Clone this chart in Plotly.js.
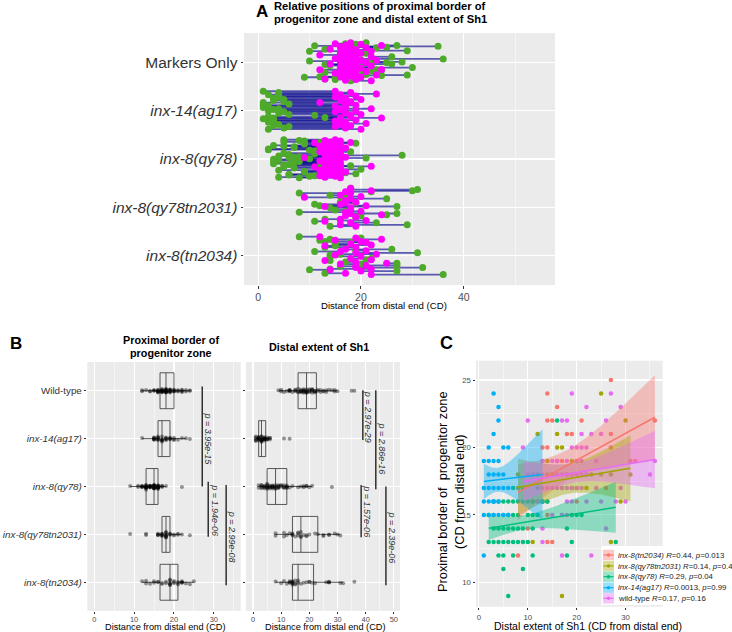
<!DOCTYPE html>
<html><head><meta charset="utf-8">
<script src="https://cdn.plot.ly/plotly-3.0.1.min.js"></script>
<style>html,body{margin:0;padding:0;background:#fff;} #chart{width:732px;height:632px;}</style>
</head><body><div id="chart"></div>
<script>
// ---------------- DATA ----------------
const labelsA = ['Markers Only', '<i>inx-14(ag17)</i>', '<i>inx-8(qy78)</i>', '<i>inx-8(qy78tn2031)</i>', '<i>inx-8(tn2034)</i>'];
const labelsB = ['Wild-type', '<i>inx-14(ag17)</i>', '<i>inx-8(qy78)</i>', '<i>inx-8(qy78tn2031)</i>', '<i>inx-8(tn2034)</i>'];
const legendNames = ['inx-8(tn2034)', 'inx-8(qy78tn2031)', 'inx-8(qy78)', 'inx-14(ag17)', 'wild-type'];
const legendR = ['0.44', '0.14', '0.29', '0.0013', '0.17'];
const legendP = ['0.013', '0.47', '0.04', '0.99', '0.16'];

// distal extent of Sh1 (CD) and proximal border of progenitor zone (CD), per animal
const sh1_wt = [19,27,22,29,10,17,18,26,21,23,25,9,21,22,19,36,20,21,13,15,18,24,35,10,17,18,20,21,16,13,19,22,15,16,17,19,20,21,29,14,18,19,22,25,28,12,18,30,17,18,15,13,26,13,17,23,11,20,24,16];
const pz_wt  = [24,24,23,23,22,22,22,22,21,21,21,20,20,20,20,19,19,19,19,19,19,19,18,18,18,18,18,18,18,18,18,18,17,17,17,17,17,17,17,17,17,16,16,16,16,16,16,16,15,15,15,14,14,13,12,12,18,20,17,19];

const sh1_ag = [3,4,4,3,5,6,2,1,3,4,2,3,5,2,4,1,2,3,4,5,6,1,2,3,4,3,11,1,2,3,4,5,6,1,13];
const pz_ag  = [24,23,22,21,20,20,20,19,19,19,19,18,18,18,18,17,17,17,17,17,17,16,16,16,16,16,18,15,15,15,15,15,15,12,16];

const sh1_qy = [16,12,7,9,12, 7,8,11,12,13,3,6,10,5,9,4,14, 7,8,10,11,12,19,21,17,2,3,5,6,20, 3,4,6,11,18,5,8,9,7, 3,4,5,7,9,10,19,2,6,8,28, 4,5,7,11,18, 5,9, 6];
const pz_qy  = [22,18,17,17,17, 16,16,16,16,16,16,16,16,16,16,16,16, 15,15,15,15,15,15,15,15,15,15,15,15,15, 14,14,14,14,14,14,14,14,14, 13,13,13,13,13,13,13,13,13,13,13, 12,12,12,12,12, 11,11, 9];

const sh1_tn31 = [25,30,12,16,16,17,14,16,19,8,14,23,25,27,31,11,13,14,15,29,17,20,22,27,11,17,8,18,19];
const pz_tn31  = [24,22,21,21,20,20,19,19,19,18,18,18,18,18,18,16,16,16,18,16,17,17,17,13,13,9,17,18,17];

const sh1_tn34 = [27,14,16,14,15,21,36,19,27,13,14,27,13,17,20,31,32,15,22,13,26,20,12,14,10,15,14,8,11,16,18];
const pz_tn34  = [25,24,23,22,22,22,22,21,21,20,20,20,19,19,19,19,19,18,18,17,17,16,15,15,14,13,13,12,16,19,21];

// p-value annotation texts (panel B)
const pLeft  = ['p = 3.95e-15', 'p = 1.94e-06', 'p = 2.99e-08'];
const pRight = ['p = 2.97e-29', 'p = 2.86e-16', 'p = 1.57e-06', 'p = 2.39e-06'];

// ---------------- LAYOUT HELPERS ----------------
const W = 732, H = 632;
const fx = p => p / W;
const fy = p => 1 - p / H;
const FONT = 'Liberation Sans, Arial, Helvetica, sans-serif';
const TXT = '#4d4d4d';

const groupsTopDown = [
  {sh1: sh1_wt, pz: pz_wt},
  {sh1: sh1_ag, pz: pz_ag},
  {sh1: sh1_qy, pz: pz_qy},
  {sh1: sh1_tn31, pz: pz_tn31},
  {sh1: sh1_tn34, pz: pz_tn34}
];

const traces = [];

// ---------------- PANEL A ----------------
const segs = [], greens = [], mags = [];
groupsTopDown.forEach((g, k) => {
  const base = 5 - k;
  const lx = [], ly = [], gx = [], gy = [], mx = [], my = [];
  g.sh1.forEach((v, i) => {
    const off = (((i * 0.6180339887 + 0.31) % 1) - 0.5) * 0.8;
    const y = base + off;
    lx.push(v, g.pz[i], null); ly.push(y, y, null);
    gx.push(v); gy.push(y);
    mx.push(g.pz[i]); my.push(y);
  });
  segs.push({type:'scatter', mode:'lines', x:lx, y:ly, xaxis:'x', yaxis:'y',
    line:{color:'rgba(0,0,139,0.62)', width:1.8}, hoverinfo:'skip', showlegend:false});
  greens.push({type:'scatter', mode:'markers', x:gx, y:gy, xaxis:'x', yaxis:'y',
    marker:{color:'#4DAA2A', size:7}, hoverinfo:'skip', showlegend:false});
  mags.push({type:'scatter', mode:'markers', x:mx, y:my, xaxis:'x', yaxis:'y',
    marker:{color:'#FF00FF', size:7}, hoverinfo:'skip', showlegend:false});
});
traces.push(...segs, ...greens, ...mags);

// ---------------- PANEL B ----------------
groupsTopDown.forEach((g, k) => {
  const pos = 5 - k;
  const common = {type:'box', orientation:'h', boxpoints:'all', jitter:0.18, pointpos:0,
    width:0.75, whiskerwidth:0, fillcolor:'rgba(0,0,0,0)', quartilemethod:'inclusive',
    line:{color:'rgba(50,50,50,0.8)', width:1},
    marker:{color:'rgba(0,0,0,0.4)', size:4}, hoverinfo:'skip', showlegend:false};
  traces.push(Object.assign({}, common, {x:g.pz, y:g.pz.map(() => pos), xaxis:'x2', yaxis:'y2'}));
  traces.push(Object.assign({}, common, {x:g.sh1, y:g.sh1.map(() => pos), xaxis:'x3', yaxis:'y3'}));
});

// ---------------- PANEL C ----------------
const colorsC = ['#F8766D', '#A3A500', '#00BF7D', '#00B0F6', '#E76BF3'];
const fillsC = ['rgba(248,118,109,0.4)', 'rgba(163,165,0,0.4)', 'rgba(0,191,125,0.4)', 'rgba(0,176,246,0.4)', 'rgba(231,107,243,0.4)'];
const groupsC = [groupsTopDown[4], groupsTopDown[3], groupsTopDown[2], groupsTopDown[1], groupsTopDown[0]];

function tq(df) {
  const z = 1.959964;
  return z + (z**3 + z) / (4*df) + (5*z**5 + 16*z**3 + 3*z) / (96*df*df)
    + (3*z**7 + 19*z**5 + 17*z**3 - 15*z) / (384*df**3);
}
function lmFit(xs, ys) {
  const n = xs.length;
  const mx = xs.reduce((a,b)=>a+b,0)/n, my = ys.reduce((a,b)=>a+b,0)/n;
  let sxx=0, sxy=0;
  xs.forEach((x,i)=>{sxx+=(x-mx)**2; sxy+=(x-mx)*(ys[i]-my);});
  const b = sxy/sxx, a = my - b*mx;
  let sse = 0; xs.forEach((x,i)=>{sse += (ys[i]-a-b*x)**2;});
  const s = Math.sqrt(sse/(n-2)), t = tq(n-2);
  const lo = Math.min(...xs), hi = Math.max(...xs);
  const gx = [], gy = [], up = [], dn = [];
  for (let j=0;j<=80;j++){
    const x = lo + (hi-lo)*j/80;
    const yh = a + b*x;
    const se = s*Math.sqrt(1/n + (x-mx)**2/sxx);
    gx.push(x); gy.push(yh); up.push(yh + t*se); dn.push(yh - t*se);
  }
  return {gx, gy, up, dn};
}

groupsC.forEach((g, k) => {
  traces.push({type:'scatter', mode:'markers', x:g.sh1, y:g.pz, xaxis:'x4', yaxis:'y4',
    marker:{color:colorsC[k], size:4.5}, hoverinfo:'skip', showlegend:false});
});
const fits = groupsC.map(g => lmFit(g.sh1, g.pz));
fits.forEach((f, k) => {
  traces.push({type:'scatter', mode:'lines', x:f.gx.concat(f.gx.slice().reverse()),
    y:f.up.concat(f.dn.slice().reverse()), fill:'toself', fillcolor:fillsC[k],
    line:{width:0, color:'rgba(0,0,0,0)'}, xaxis:'x4', yaxis:'y4', hoverinfo:'skip', showlegend:false});
});
fits.forEach((f, k) => {
  traces.push({type:'scatter', mode:'lines', x:f.gx, y:f.gy, line:{color:colorsC[k], width:1.5},
    xaxis:'x4', yaxis:'y4', hoverinfo:'skip', showlegend:false});
});

// ---------------- AXES ----------------
function xax(domain, range, dtick, minor, tsize, anchor, tlen) {
  return {domain, range, anchor, tickmode:'linear', tick0:0, dtick, showgrid:true, gridcolor:'#fff', gridwidth:1.1,
    zeroline:false, ticks:'outside', ticklen:(tlen || 2.5), tickwidth:1, tickcolor:'#333', showline:false,
    tickfont:{size:tsize, color:TXT, family:FONT},
    minor:{dtick:minor, tick0:0, showgrid:true, gridcolor:'#fff', gridwidth:0.5, ticks:''}};
}
function yaxCat(domain, labels, size, anchor, showLabels) {
  return {domain, range:[0.4, 5.6], anchor, tickmode:'array', tickvals:[5,4,3,2,1], ticktext:labels,
    showticklabels:showLabels, showgrid:true, gridcolor:'#fff', gridwidth:1.1, zeroline:false,
    ticks:'outside', ticklen:2.5, tickcolor:'#333', tickfont:{size, color:'#333', family:FONT}};
}

const layout = {
  width:W, height:H, margin:{l:0, r:0, t:0, b:0}, paper_bgcolor:'#fff', plot_bgcolor:'#EBEBEB',
  font:{family:FONT}, showlegend:false,
  xaxis: xax([fx(244), fx(555)], [-2.75, 57.75], 20, 10, 10.5, 'y'),
  yaxis: yaxCat([fy(285), fy(33)], labelsA, 15.5, 'x', true),
  xaxis2: xax([fx(87.3), fx(240.7)], [-1.75, 36.75], 10, 5, 7.4, 'y2', 1.5),
  yaxis2: yaxCat([fy(611), fy(362)], labelsB, 9.8, 'x2', true),
  xaxis3: xax([fx(246), fx(400)], [-2.5, 52.2], 10, 5, 7.4, 'y3', 1.5),
  yaxis3: yaxCat([fy(611), fy(362)], labelsB, 9.8, 'x3', false),
  xaxis4: xax([fx(476), fx(662.7)], [-0.6, 37.6], 10, 5, 7.8, 'y4'),
  yaxis4: xax([fy(606.7), fy(360.7)], [8.2, 26.43], 5, 2.5, 7.8, 'x4'),
  shapes: [], annotations: []
};

// ---------------- p-value brackets ----------------
const bracketsL = [ {x:27.1, y0:5.09, y1:3.0, lx:28.6, ly:4.0}, {x:28.6, y0:3.1, y1:1.95, lx:30.1, ly:2.5}, {x:33.1, y0:3.03, y1:0.94, lx:34.6, ly:1.95} ];
const bracketsR = [ {x:39.0, y0:5.01, y1:3.97, lx:41.1, ly:4.46}, {x:43.6, y0:5.01, y1:2.94, lx:45.7, ly:3.8},
                    {x:38.4, y0:3.03, y1:1.94, lx:40.5, ly:2.48}, {x:47.2, y0:3.0, y1:0.94, lx:49.3, ly:1.94} ];
function addBrackets(list, texts, xr, yr) {
  list.forEach((b, i) => {
    layout.shapes.push({type:'line', xref:xr, yref:yr, x0:b.x, x1:b.x, y0:b.y0, y1:b.y1,
      line:{color:'rgba(0,0,0,0.8)', width:1.5}});
    layout.annotations.push({xref:xr, yref:yr, x:b.lx, y:b.ly, text:'<i>' + texts[i] + '</i>',
      textangle:90, showarrow:false, xanchor:'center', yanchor:'middle',
      font:{size:9, color:'#333', family:FONT}});
  });
}
addBrackets(bracketsL, pLeft, 'x2', 'y2');
addBrackets(bracketsR, pRight, 'x3', 'y3');

// ---------------- texts ----------------
function pann(x, y, text, size, opts) {
  layout.annotations.push(Object.assign({xref:'paper', yref:'paper', x:fx(x), y:fy(y), text,
    showarrow:false, xanchor:'center', yanchor:'middle', font:{size, color:'#000', family:FONT}}, opts || {}));
}
pann(262, 12, '<b>A</b>', 17);
pann(380, 6.5, '<b>Relative positions of proximal border of</b>', 11.2);
pann(380, 19, '<b>progenitor zone and distal extent of Sh1</b>', 11.2);
pann(384, 305, 'Distance from distal end (CD)', 9.6);
pann(16, 343, '<b>B</b>', 17);
pann(171, 340, '<b>Proximal border of</b>', 10.8);
pann(171, 353, '<b>progenitor zone</b>', 10.8);
pann(319, 347, '<b>Distal extent of Sh1</b>', 10.8);
pann(165, 626.6, 'Distance from distal end (CD)', 9.2);
pann(325, 626.6, 'Distance from distal end (CD)', 9.2);
pann(446, 343, '<b>C</b>', 18);
pann(588, 625.5, 'Distal extent of Sh1 (CD from distal end)', 10.5);
pann(451, 492, 'Proximal border of  progenitor zone<br>(CD from distal end)', 12.8, {textangle:-90});

// ---------------- legend for C ----------------
layout.shapes.push({type:'rect', xref:'paper', yref:'paper', x0:fx(602), x1:fx(732), y0:fy(605), y1:fy(546),
  fillcolor:'#fff', line:{width:0}, layer:'above'});
const rowY = [555, 566, 576.7, 587.7, 598.3];
legendNames.forEach((nm, k) => {
  const cy = rowY[k];
  layout.shapes.push({type:'rect', xref:'paper', yref:'paper', x0:fx(603), x1:fx(614), y0:fy(cy+5.2), y1:fy(cy-5.2),
    fillcolor:fillsC[k], line:{width:0}, layer:'above'});
  layout.shapes.push({type:'line', xref:'paper', yref:'paper', x0:fx(603.5), x1:fx(613.5), y0:fy(cy), y1:fy(cy),
    line:{color:colorsC[k], width:1.2}, layer:'above'});
  layout.shapes.push({type:'circle', xref:'paper', yref:'paper', x0:fx(606.8), x1:fx(610.2), y0:fy(cy+1.7), y1:fy(cy-1.7),
    fillcolor:colorsC[k], line:{width:0}, layer:'above'});
  const nmTxt = nm === 'wild-type' ? nm : '<i>' + nm + '</i>';
  pann(616.3, cy, nmTxt + ' <i>R</i>=' + legendR[k] + ', <i>p</i>=' + legendP[k], 7.8, {xanchor:'left', font:{size:7.8, color:'#222', family:FONT}});
});

Plotly.newPlot('chart', traces, layout, {staticPlot:true, displayModeBar:false});
</script></body></html>
